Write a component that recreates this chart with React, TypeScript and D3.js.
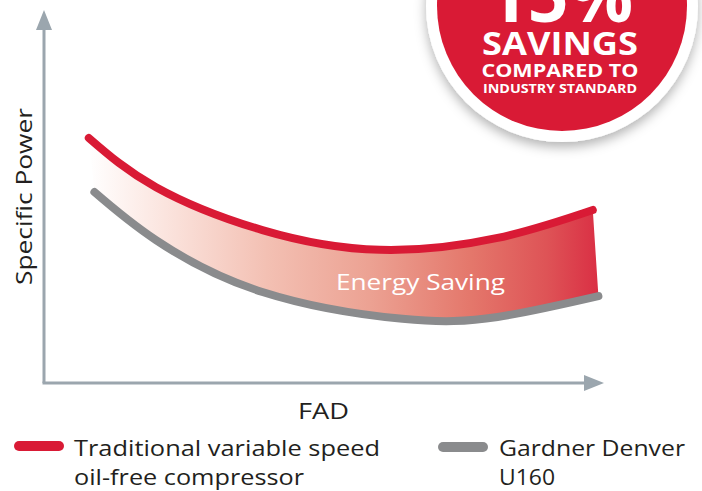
import React from "react";
import * as d3 from "d3";

// Curve readings (FAD in %, specific power in arbitrary units 0-100)
const fadTraditional = [8, 20, 39, 60, 81, 98];
const powerTraditional = [65.7, 52.5, 41.0, 35.7, 38.9, 46.4];
const fadGardner = [9, 20, 39, 64, 81, 99];
const powerGardner = [51.2, 38.3, 24.4, 17.2, 17.7, 23.3];

const axisLabels = { x: "FAD", y: "Specific Power" };
const bandLabel = "Energy Saving";
const legendLabels = [
  ["Traditional variable speed", "oil-free compressor"],
  ["Gardner Denver", "U160"],
];
const badgeLines = ["15%", "SAVINGS", "COMPARED TO", "INDUSTRY STANDARD"];

const W = 702;
const H = 491;
const RED = "#d91a35";
const GRAY = "#8a8b8d";
const AXIS = "#9ba6ae";
const TEXT = "#231f20";
const FONT = "'Open Sans', sans-serif";

export default function App() {
  const x = d3.scaleLinear().domain([0, 100]).range([44, 604]);
  const y = d3.scaleLinear().domain([0, 100]).range([383, 10]);

  const red = fadTraditional.map((f, i) => [f, powerTraditional[i]] as [number, number]);
  const gray = fadGardner.map((f, i) => [f, powerGardner[i]] as [number, number]);

  const line = d3
    .line<[number, number]>()
    .x((d) => x(d[0]))
    .y((d) => y(d[1]))
    .curve(d3.curveNatural);

  const redPath = line(red) || "";
  const grayPath = line(gray) || "";
  // band between the two curves
  const grayBack = (line([...gray].reverse()) || "").replace(/^M/, "L");
  const bandPath = redPath + grayBack + "Z";

  const x0 = x(0);
  const y0 = y(0);
  const xEnd = x(100);
  const yEnd = y(100);

  return (
    <svg
      width={W}
      height={H}
      style={{ position: "absolute", left: 0, top: 0, background: "#fff" }}
    >
      <defs>
        <linearGradient
          id="band"
          gradientUnits="userSpaceOnUse"
          x1={x(fadTraditional[0])}
          x2={x(fadGardner[fadGardner.length - 1])}
          y1={0}
          y2={0}
        >
          <stop offset="0" stopColor="#ffffff" />
          <stop offset="0.15" stopColor="#fbe4de" />
          <stop offset="0.35" stopColor="#f3c0b3" />
          <stop offset="0.55" stopColor="#eca293" />
          <stop offset="0.75" stopColor="#e4776b" />
          <stop offset="0.9" stopColor="#de5356" />
          <stop offset="1" stopColor="#da2f44" />
        </linearGradient>
        <filter id="shadow" x="-30%" y="-30%" width="160%" height="160%">
          <feDropShadow dx="0" dy="5" stdDeviation="6" floodColor="#000" floodOpacity="0.3" />
        </filter>
      </defs>

      {/* axes */}
      <line x1={x0} y1={y0} x2={x0} y2={yEnd + 18} stroke={AXIS} strokeWidth={3} />
      <path d={`M${x0},${yEnd} L${x0 - 8},${yEnd + 20} L${x0 + 8},${yEnd + 20} Z`} fill={AXIS} />
      <line x1={x0 - 1.5} y1={y0} x2={xEnd - 18} y2={y0} stroke={AXIS} strokeWidth={3} />
      <path d={`M${xEnd},${y0} L${xEnd - 20},${y0 - 8} L${xEnd - 20},${y0 + 8} Z`} fill={AXIS} />

      <text
        transform={`translate(32,196.5) rotate(-90)`}
        textAnchor="middle"
        fontFamily={FONT}
        fontSize={22}
        fill={TEXT}
        textLength={177}
        lengthAdjust="spacingAndGlyphs"
      >
        {axisLabels.y}
      </text>
      <text
        x={323.5}
        y={419}
        textAnchor="middle"
        fontFamily={FONT}
        fontSize={21}
        fill={TEXT}
        textLength={51}
        lengthAdjust="spacingAndGlyphs"
      >
        {axisLabels.x}
      </text>

      {/* band and curves */}
      <path d={bandPath} fill="url(#band)" />
      <path d={grayPath} fill="none" stroke={GRAY} strokeWidth={8} strokeLinecap="round" />
      <path d={redPath} fill="none" stroke={RED} strokeWidth={8} strokeLinecap="round" />
      <text
        x={420.5}
        y={290}
        textAnchor="middle"
        fontFamily={FONT}
        fontSize={22}
        fill="#fff"
        textLength={169}
        lengthAdjust="spacingAndGlyphs"
      >
        {bandLabel}
      </text>

      {/* badge */}
      <g filter="url(#shadow)">
        <circle cx={562} cy={6} r={136} fill="#fff" />
      </g>
      <circle cx={562} cy={6} r={125} fill={RED} />
      <g fontFamily={FONT} fontWeight={700} fill="#fff" textAnchor="middle">
        <text x={560} y={22} fontSize={74} textLength={146} lengthAdjust="spacingAndGlyphs">
          {badgeLines[0]}
        </text>
        <text x={560} y={55} fontSize={32} textLength={156} lengthAdjust="spacingAndGlyphs">
          {badgeLines[1]}
        </text>
        <text x={560} y={77} fontSize={18.5} textLength={157} lengthAdjust="spacingAndGlyphs">
          {badgeLines[2]}
        </text>
        <text x={560} y={93} fontSize={13} textLength={154} lengthAdjust="spacingAndGlyphs">
          {badgeLines[3]}
        </text>
      </g>

      {/* legend */}
      <line x1={19} y1={446} x2={59} y2={446} stroke={RED} strokeWidth={10} strokeLinecap="round" />
      <g fontFamily={FONT} fontSize={22} fill={TEXT}>
        <text x={74} y={456} textLength={306} lengthAdjust="spacingAndGlyphs">
          {legendLabels[0][0]}
        </text>
        <text x={74} y={485} textLength={230} lengthAdjust="spacingAndGlyphs">
          {legendLabels[0][1]}
        </text>
      </g>
      <line x1={443} y1={447} x2={483} y2={447} stroke={GRAY} strokeWidth={10} strokeLinecap="round" />
      <g fontFamily={FONT} fontSize={22} fill={TEXT}>
        <text x={499} y={456} textLength={186} lengthAdjust="spacingAndGlyphs">
          {legendLabels[1][0]}
        </text>
        <text x={499} y={485} textLength={56} lengthAdjust="spacingAndGlyphs">
          {legendLabels[1][1]}
        </text>
      </g>
    </svg>
  );
}
